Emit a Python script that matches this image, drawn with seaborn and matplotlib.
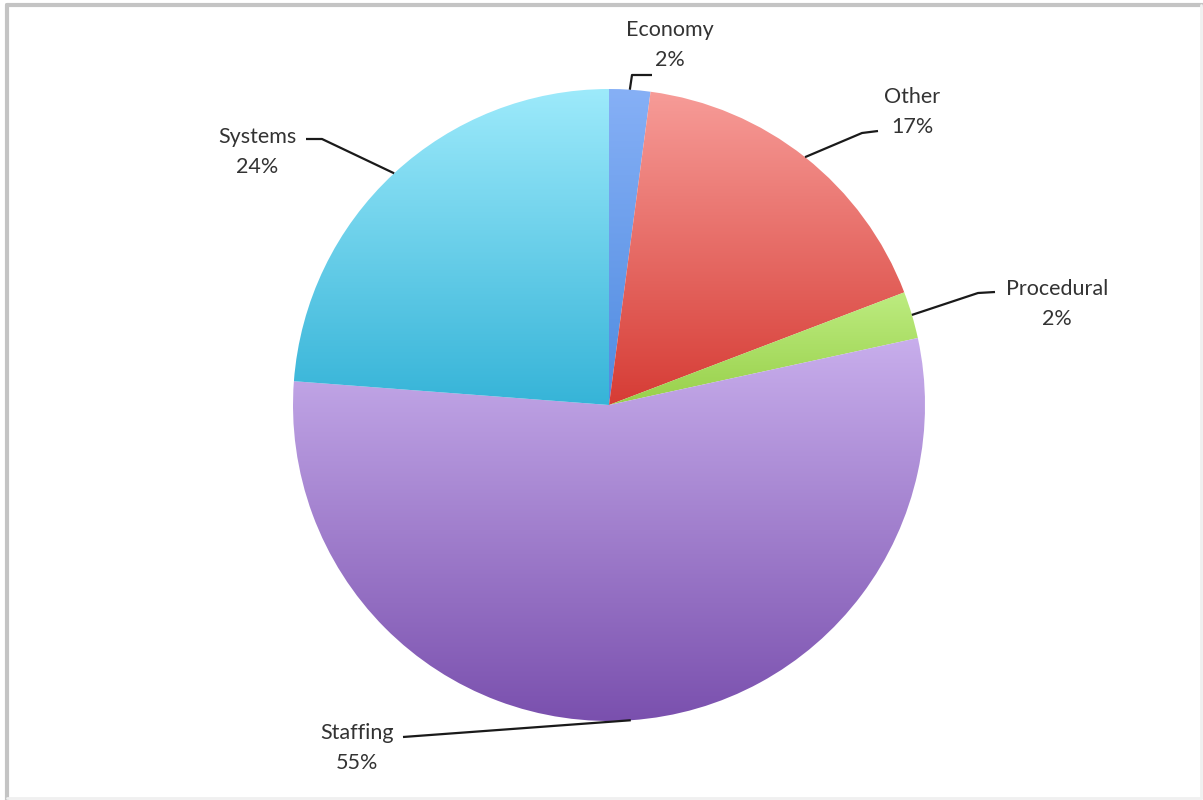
import numpy as np
import matplotlib
matplotlib.use("Agg")
import matplotlib.pyplot as plt
import matplotlib.colors as mcolors
import seaborn as sns

# ---- data ----
categories = ["Economy", "Other", "Procedural", "Staffing", "Systems"]
values = [2.1, 17.1, 2.4, 54.6, 23.8]
pct_labels = ["2%", "17%", "2%", "55%", "24%"]

# gradient colours (top, bottom) per slice
top_colors = ["#86b0f6", "#f79c98", "#bdec80", "#c8aeec", "#9deafb"]
bottom_colors = ["#4f8be0", "#d63c35", "#98d04a", "#7a50ae", "#36b4d8"]

sns.set_theme(style="white")
plt.rcParams["font.family"] = ["Lato", "DejaVu Sans"]

W, H = 1203, 800
fig = plt.figure(figsize=(W / 100, H / 100), dpi=100)
ax = fig.add_axes([0, 0, 1, 1])
ax.set_xlim(0, W)
ax.set_ylim(0, H)
ax.set_aspect("equal")
ax.axis("off")

cx, cy, R = 609, 800 - 405, 316
wedges, _ = ax.pie(values, startangle=90, counterclock=False, center=(cx, cy),
                   radius=R, frame=True,
                   wedgeprops=dict(linewidth=0, edgecolor="none"))

for w, ct, cb in zip(wedges, top_colors, bottom_colors):
    ext = w.get_path().get_extents()
    x0, y0, x1, y1 = ext.x0, ext.y0, ext.x1, ext.y1
    n = 256
    t = np.linspace(0, 1, n)[:, None]
    c_top = np.array(mcolors.to_rgb(ct))
    c_bot = np.array(mcolors.to_rgb(cb))
    grad = c_bot[None, :] * (1 - t) + c_top[None, :] * t
    img = np.repeat(grad[:, None, :], 2, axis=1)
    im = ax.imshow(img, extent=(x0, x1, y0, y1), origin="lower",
                   interpolation="bilinear", aspect="auto", zorder=1)
    im.set_clip_path(w)
    w.set_facecolor("none")

ax.set_xlim(0, W)
ax.set_ylim(0, H)
ax.axis("off")

# label layout: (text x, text y of first line [px from top], elbow points in px)
label_pos = {
    "Economy": (670, 30),
    "Other": (912, 97),
    "Procedural": (1057, 289),
    "Staffing": (357, 733),
    "Systems": (257, 137),
}
elbows = {
    "Economy": [(632, 75), (652, 75)],
    "Other": [(862, 133), (878, 131)],
    "Procedural": [(978, 293), (995, 292)],
    "Staffing": [(403, 737)],
    "Systems": [(322, 139), (306, 139)],
}

txt_color = "#333333"
for w, cat, pl in zip(wedges, categories, pct_labels):
    mid = np.deg2rad((w.theta1 + w.theta2) / 2)
    ax_x = cx + R * np.cos(mid)
    ax_y = cy + R * np.sin(mid)
    pts = [(ax_x, ax_y)] + [(px, H - py) for px, py in elbows[cat]]
    xs, ys = zip(*pts)
    ax.plot(xs, ys, color="#1a1a1a", lw=1.6, zorder=3, solid_capstyle="butt")
    tx, ty = label_pos[cat]
    ax.text(tx, H - ty, cat, ha="center", va="center", fontsize=15.5, color=txt_color)
    ax.text(tx, H - ty - 30, pl, ha="center", va="center", fontsize=15.5, color=txt_color)

# outer frame (gray border)
ax.plot([7, 7], [0, H - 5], color="#c4c4c4", lw=3, zorder=5)
ax.plot([7, W], [H - 5, H - 5], color="#c4c4c4", lw=3, zorder=5)
ax.plot([7, W - 2], [2, 2], color="#f0f0f0", lw=2, zorder=5)
ax.plot([W - 2, W - 2], [2, H - 5], color="#f0f0f0", lw=2, zorder=5)

fig.savefig("out.png", dpi=100)
